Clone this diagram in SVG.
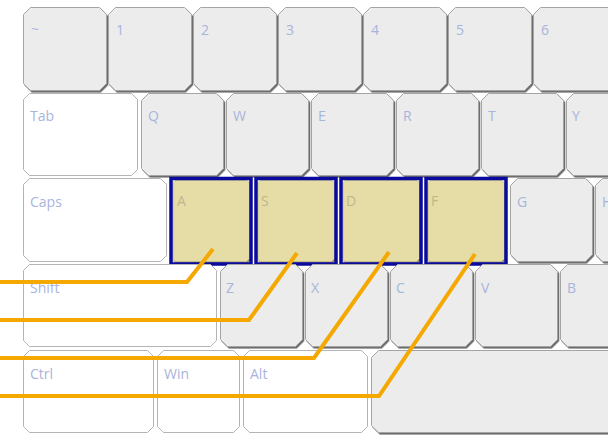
<svg xmlns="http://www.w3.org/2000/svg" width="608" height="436" viewBox="0 0 608 436">
<defs>
<filter id="sh" x="-5%" y="-5%" width="115%" height="115%">
<feDropShadow dx="1.3" dy="1.6" stdDeviation="0.4" flood-color="#6e6e6e" flood-opacity="1"/>
</filter>
<filter id="sht" x="-5%" y="-5%" width="115%" height="115%">
<feDropShadow dx="0.8" dy="1.5" stdDeviation="0.3" flood-color="#8c8560" flood-opacity="1"/>
</filter>
</defs>
<style>
.g{fill:#ececec;stroke:#a4a4a4;stroke-width:1;filter:url(#sh)}
.w{fill:#ffffff;stroke:#b4b4b4;stroke-width:1}
.t{fill:#e5dda5;stroke:#c4bc8c;stroke-width:0.8;filter:url(#sht)}
.hl{fill:none;stroke:#0a0a9c;stroke-width:3.5}
.l{font-family:"Open Sans","Noto Sans",sans-serif;font-size:14px;fill:#a9b4dc}
.lt{font-family:"Open Sans","Noto Sans",sans-serif;font-size:14px;fill:#bdb68f}
.c{fill:none;stroke:#f5a800;stroke-width:4;stroke-linejoin:miter}
</style>
<rect width="608" height="436" fill="#ffffff"/>

<!-- Row 1 -->
<g id="key-tilde"><polygon class="g" points="30.5,7.5 99.5,7.5 106.5,14.5 106.5,83.5 99.5,90.5 30.5,90.5 23.5,83.5 23.5,14.5"/><text class="l" x="31" y="34">~</text></g>
<g id="key-1"><polygon class="g" points="115.5,7.5 184.5,7.5 191.5,14.5 191.5,83.5 184.5,90.5 115.5,90.5 108.5,83.5 108.5,14.5"/><text class="l" x="116" y="35">1</text></g>
<g id="key-2"><polygon class="g" points="200.5,7.5 269.5,7.5 276.5,14.5 276.5,83.5 269.5,90.5 200.5,90.5 193.5,83.5 193.5,14.5"/><text class="l" x="201" y="35">2</text></g>
<g id="key-3"><polygon class="g" points="285.5,7.5 354.5,7.5 361.5,14.5 361.5,83.5 354.5,90.5 285.5,90.5 278.5,83.5 278.5,14.5"/><text class="l" x="286" y="35">3</text></g>
<g id="key-4"><polygon class="g" points="370.5,7.5 439.5,7.5 446.5,14.5 446.5,83.5 439.5,90.5 370.5,90.5 363.5,83.5 363.5,14.5"/><text class="l" x="371" y="35">4</text></g>
<g id="key-5"><polygon class="g" points="455.5,7.5 524.5,7.5 531.5,14.5 531.5,83.5 524.5,90.5 455.5,90.5 448.5,83.5 448.5,14.5"/><text class="l" x="456" y="35">5</text></g>
<g id="key-6"><polygon class="g" points="540.5,7.5 609.5,7.5 616.5,14.5 616.5,83.5 609.5,90.5 540.5,90.5 533.5,83.5 533.5,14.5"/><text class="l" x="541" y="35">6</text></g>

<!-- Row 2 -->
<g id="key-tab"><polygon class="w" points="29.5,93.5 131.5,93.5 137.5,99.5 137.5,169.5 131.5,175.5 29.5,175.5 23.5,169.5 23.5,99.5"/><text class="l" x="30" y="121">Tab</text></g>
<g id="key-q"><polygon class="g" points="148.5,93.5 216.5,93.5 223.5,100.5 223.5,168.5 216.5,175.5 148.5,175.5 141.5,168.5 141.5,100.5"/><text class="l" x="148" y="121">Q</text></g>
<g id="key-w"><polygon class="g" points="233.5,93.5 301.5,93.5 308.5,100.5 308.5,168.5 301.5,175.5 233.5,175.5 226.5,168.5 226.5,100.5"/><text class="l" x="233" y="121">W</text></g>
<g id="key-e"><polygon class="g" points="318.5,93.5 386.5,93.5 393.5,100.5 393.5,168.5 386.5,175.5 318.5,175.5 311.5,168.5 311.5,100.5"/><text class="l" x="318" y="121">E</text></g>
<g id="key-r"><polygon class="g" points="403.5,93.5 471.5,93.5 478.5,100.5 478.5,168.5 471.5,175.5 403.5,175.5 396.5,168.5 396.5,100.5"/><text class="l" x="403" y="121">R</text></g>
<g id="key-t"><polygon class="g" points="488.5,93.5 556.5,93.5 563.5,100.5 563.5,168.5 556.5,175.5 488.5,175.5 481.5,168.5 481.5,100.5"/><text class="l" x="488" y="121">T</text></g>
<g id="key-y"><polygon class="g" points="573.5,93.5 641.5,93.5 648.5,100.5 648.5,168.5 641.5,175.5 573.5,175.5 566.5,168.5 566.5,100.5"/><text class="l" x="572" y="121">Y</text></g>

<!-- Row 3 -->
<g id="key-caps"><polygon class="w" points="29.5,178.5 160.5,178.5 166.5,184.5 166.5,255.5 160.5,261.5 29.5,261.5 23.5,255.5 23.5,184.5"/><text class="l" x="30" y="207">Caps</text></g>
<g id="key-a"><polygon class="t" points="175,180.5 247,180.5 249.5,183 249.5,258.5 246.5,261.5 175,261.5 173,259.5 173,182.5"/><rect class="hl" x="171" y="178.5" width="80" height="85.5"/><text class="lt" x="177" y="206">A</text></g>
<g id="key-s"><polygon class="t" points="260,180.5 332,180.5 334.5,183 334.5,258.5 331.5,261.5 260,261.5 258,259.5 258,182.5"/><rect class="hl" x="256" y="178.5" width="80" height="85.5"/><text class="lt" x="261" y="206">S</text></g>
<g id="key-d"><polygon class="t" points="345,180.5 417,180.5 419.5,183 419.5,258.5 416.5,261.5 345,261.5 343,259.5 343,182.5"/><rect class="hl" x="341" y="178.5" width="80" height="85.5"/><text class="lt" x="346" y="206">D</text></g>
<g id="key-f"><polygon class="t" points="430,180.5 502,180.5 504.5,183 504.5,258.5 501.5,261.5 430,261.5 428,259.5 428,182.5"/><rect class="hl" x="426" y="178.5" width="80" height="85.5"/><text class="lt" x="431" y="206">F</text></g>
<g id="key-g"><polygon class="g" points="517.5,178.5 585.5,178.5 592.5,185.5 592.5,254.5 585.5,261.5 517.5,261.5 510.5,254.5 510.5,185.5"/><text class="l" x="517" y="207">G</text></g>
<g id="key-h"><polygon class="g" points="602.5,178.5 670.5,178.5 677.5,185.5 677.5,254.5 670.5,261.5 602.5,261.5 595.5,254.5 595.5,185.5"/><text class="l" x="602" y="207">H</text></g>

<!-- Row 4 -->
<g id="key-shift"><polygon class="w" points="29.5,264.5 210.5,264.5 216.5,270.5 216.5,340.5 210.5,346.5 29.5,346.5 23.5,340.5 23.5,270.5"/><text class="l" x="30" y="293">Shift</text></g>
<g id="key-z"><polygon class="g" points="227.5,264.5 295.5,264.5 302.5,271.5 302.5,339.5 295.5,346.5 227.5,346.5 220.5,339.5 220.5,271.5"/><text class="l" x="226" y="293">Z</text></g>
<g id="key-x"><polygon class="g" points="312.5,264.5 380.5,264.5 387.5,271.5 387.5,339.5 380.5,346.5 312.5,346.5 305.5,339.5 305.5,271.5"/><text class="l" x="311" y="293">X</text></g>
<g id="key-c"><polygon class="g" points="397.5,264.5 465.5,264.5 472.5,271.5 472.5,339.5 465.5,346.5 397.5,346.5 390.5,339.5 390.5,271.5"/><text class="l" x="396" y="293">C</text></g>
<g id="key-v"><polygon class="g" points="482.5,264.5 550.5,264.5 557.5,271.5 557.5,339.5 550.5,346.5 482.5,346.5 475.5,339.5 475.5,271.5"/><text class="l" x="481" y="293">V</text></g>
<g id="key-b"><polygon class="g" points="567.5,264.5 635.5,264.5 642.5,271.5 642.5,339.5 635.5,346.5 567.5,346.5 560.5,339.5 560.5,271.5"/><text class="l" x="567" y="293">B</text></g>

<!-- Row 5 -->
<g id="key-ctrl"><polygon class="w" points="29.5,350.5 147.5,350.5 153.5,356.5 153.5,426.5 147.5,432.5 29.5,432.5 23.5,426.5 23.5,356.5"/><text class="l" x="30" y="379">Ctrl</text></g>
<g id="key-win"><polygon class="w" points="163.5,350.5 233.5,350.5 239.5,356.5 239.5,426.5 233.5,432.5 163.5,432.5 157.5,426.5 157.5,356.5"/><text class="l" x="164" y="379">Win</text></g>
<g id="key-alt"><polygon class="w" points="249.5,350.5 361.5,350.5 367.5,356.5 367.5,426.5 361.5,432.5 249.5,432.5 243.5,426.5 243.5,356.5"/><text class="l" x="250" y="379">Alt</text></g>
<g id="key-space"><polygon class="g" points="378.5,350.5 700.5,350.5 707.5,357.5 707.5,425.5 700.5,432.5 378.5,432.5 371.5,425.5 371.5,357.5"/></g>

<!-- Connectors -->
<g id="connectors">
<polyline class="c" points="0,282 187,282 213,249"/>
<polyline class="c" points="0,320 249,320 297,253"/>
<polyline class="c" points="0,358 314,358 389,252"/>
<polyline class="c" points="0,396 379,396 475,254"/>
</g>
</svg>
